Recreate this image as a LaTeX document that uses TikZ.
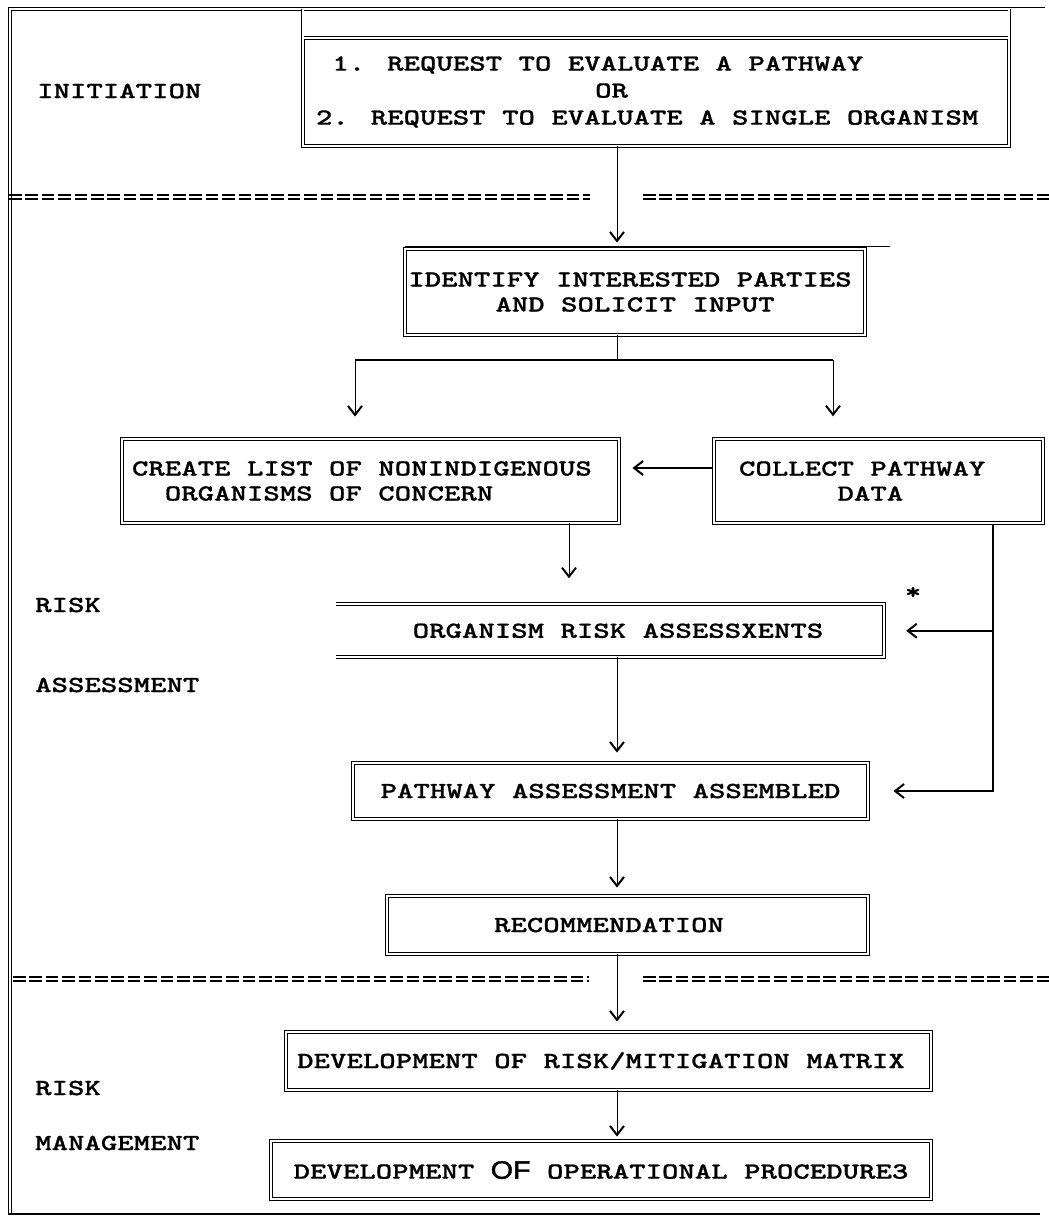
\documentclass[tikz,border=0pt]{standalone}
\usepackage{fontspec}
\usetikzlibrary{arrows.meta}
\newfontfamily\dfam{lmmonolt10-bold.otf}[FakeStretch=1.36,FakeBold=0.8]
\newfontfamily\ofam{Liberation Sans}[FakeBold=1.6,FakeStretch=1.15]
\newcommand\ns{\spaceskip=0pt\xspaceskip=0pt\relax}
\newcommand\dfont{\fontsize{23}{27}\dfam}
\newcommand\dfontb{\fontsize{23}{25}\dfam}
\tikzset{
  box/.style={draw, double, double distance=2pt, line width=0.9pt, inner sep=0pt, font=\dfont},
  dbl/.style={double, double distance=2pt, line width=0.9pt},
  lbl/.style={font=\dfont, anchor=west, inner sep=0pt},
  arr/.style={line width=1pt, -{Straight Barb[length=9pt,width=14pt,line width=2pt]}},
  eqline/.style={line width=1.5pt, dash pattern=on 12.5pt off 3.9pt},
}
\begin{document}
\begin{tikzpicture}[x=1pt,y=-1pt]
\useasboundingbox (0,0) rectangle (1049,1221);
% named coordinates
\coordinate (ftop) at (0,9);
\coordinate (axis) at (617,0);
\coordinate (sl) at (355,360);
\coordinate (sr) at (833,360);
\coordinate (cx) at (569,0);
\coordinate (rx) at (993,0);
% outer frame
\draw[dbl] (10,1214) -- (10,9) -- (1009.5,9);
\draw[line width=0.8pt] (1009,7) -- (1045,7);
\draw[line width=1.5pt] (8,1214) -- (1040,1214);
% section separators
\draw[eqline] (9,195) -- (590,195);
\draw[eqline] (9,199) -- (590,199);
\draw[eqline] (643,195) -- (1049,195);
\draw[eqline] (643,199) -- (1049,199);
\draw[eqline] (13,977) -- (589,977);
\draw[eqline] (13,981) -- (589,981);
\draw[eqline] (643,977) -- (1049,977);
\draw[eqline] (643,981) -- (1049,981);
% section labels
\node[lbl] (lini) at (37,91) {INITIATION};
\node[lbl] (lra) at (35,605) {RISK};
\node[lbl] (las) at (35,685) {ASSESSMENT};
\node[lbl] (lrm) at (35,1088) {RISK};
\node[lbl] (lmg) at (35,1143) {MANAGEMENT};
% boxes
\node[box, minimum width=706, minimum height=108, text width=680, align=left] (req) at (656,92)
  {\ns ~1. REQUEST TO EVALUATE A PATHWAY\\~~~~~~~~~~~~~~~~~OR\\2. REQUEST TO EVALUATE A SINGLE ORGANISM};
\draw[dbl] (req.north west) -- (req.north west |- ftop);
\draw[dbl] (req.north east) -- (req.north east |- ftop);
\node[box, font=\dfontb, minimum width=460, minimum height=86, align=center] (idf) at (635,292)
  {\ns IDENTIFY INTERESTED PARTIES\hspace*{10pt}\\AND SOLICIT INPUT};
\draw[line width=1.2pt] ([yshift=2pt]idf.north west) -- ++(485,0);
\node[box, font=\dfontb, minimum width=497, minimum height=84, text width=477, align=left] (cre) at (370.5,481)
  {\ns CREATE LIST OF NONINDIGENOUS\\~~ORGANISMS OF CONCERN};
\node[box, font=\dfontb, line width=1.4pt, minimum width=329, minimum height=84, text width=279, align=left] (col) at (878.5,481)
  {\ns COLLECT PATHWAY\\~~~~~~DATA};
\node[font=\dfont, inner sep=0pt, minimum width=548, minimum height=52.5] (org) at (610,630.75)
  {\hspace*{16pt}ORGANISM RISK ASSESSXENTS};
\draw[dbl] (org.north west) -- (org.north east) -- (org.south east) -- (org.south west);
\node[font=\dfont, inner sep=0pt] (star) at (913,593) {*};
\node[box, minimum width=515, minimum height=56] (pas) at (610.5,791) {PATHWAY ASSESSMENT ASSEMBLED};
\node[box, minimum width=481, minimum height=58] (rec) at (627.5,925) {RECOMMENDATION\hspace*{37pt}};
\node[box, minimum width=645, minimum height=58] (mat) at (608.5,1061) {DEVELOPMENT OF RISK/MITIGATION MATRIX\hspace*{15pt}};
\node[box, minimum width=660, minimum height=58] (ops) at (601,1170)
  {DEVELOPMENT {\fontsize{25}{27}\ofam OF} OPERATIONAL PROCEDURE3};
% connectors
\draw[arr, shorten >=6pt] (req.south -| axis) -- (idf.north -| axis);
\draw[line width=1pt] (idf.south -| axis) -- (axis |- sl);
\draw[line width=1.8pt] (sl) -- (sr);
\draw[arr, shorten >=22pt] (sl) -- (sl |- cre.north);
\draw[arr, shorten >=22pt] (sr) -- (sr |- col.north);
\draw[arr, line width=1.5pt, shorten >=13pt] ([yshift=13pt]col.west) -- ([yshift=13pt]cre.east);
\draw[arr, shorten >=26pt] (cre.south -| cx) -- (org.north -| cx);
\draw[arr, line width=1.5pt, shorten >=25pt] (col.south -| rx) |- (pas.east);
\draw[arr, line width=1.5pt, shorten >=22pt] (rx |- org.east) -- (org.east);
\draw[arr, shorten >=10pt] (org.south -| axis) -- (pas.north -| axis);
\draw[arr, shorten >=8pt] (pas.south -| axis) -- (rec.north -| axis);
\draw[arr, shorten >=10pt] (rec.south -| axis) -- (mat.north -| axis);
\draw[arr, shorten >=4pt] (mat.south -| axis) -- (ops.north -| axis);
\end{tikzpicture}
\end{document}
